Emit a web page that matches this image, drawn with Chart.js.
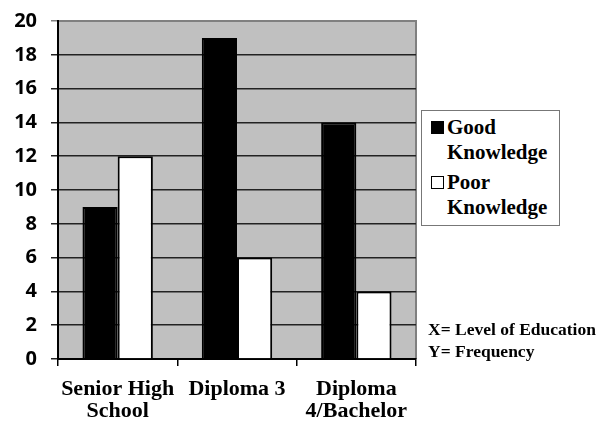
<!DOCTYPE html>
<html>
<head>
<meta charset="utf-8">
<script src="https://cdn.jsdelivr.net/npm/chart.js@4.4.0/dist/chart.umd.min.js"></script>
<style>
  html, body { margin: 0; padding: 0; background: #fff; }
  #wrap { position: relative; width: 608px; height: 423px; }
  #legend {
    position: absolute; left: 421px; top: 110px; width: 137px; height: 114px;
    border: 1px solid #777; background: #fff;
    font: bold 21px "Liberation Serif", "Times New Roman", serif; color: #000;
  }
  .item { position: absolute; left: 9px; line-height: 25px; }
  .box { position: absolute; left: 0; top: 6px; width: 11px; height: 11px; border: 1px solid #000; }
  .txt { margin-left: 16px; }
  #note {
    position: absolute; left: 428px; top: 318px;
    font: bold 17.5px "Liberation Serif", "Times New Roman", serif; line-height: 22px; color: #000;
  }
</style>
</head>
<body>
<div id="wrap">
  <canvas id="chart" width="608" height="423"></canvas>
  <div id="legend"></div>
  <div id="note">X= Level of Education<br>Y= Frequency</div>
</div>
<script>
const categories = [['Senior High', 'School'], ['Diploma 3'], ['Diploma', '4/Bachelor']];
const seriesNames = ['Good Knowledge', 'Poor Knowledge'];
const goodValues = [9, 19, 14];
const poorValues = [12, 6, 4];
const yTicks = [0, 2, 4, 6, 8, 10, 12, 14, 16, 18, 20];

const plotBg = {
  id: 'plotBg',
  beforeDraw(chart) {
    const a = chart.chartArea, c = chart.ctx;
    c.save();
    c.fillStyle = '#c0c0c0';
    c.fillRect(a.left, a.top, a.right - a.left, a.bottom - a.top);
    c.strokeStyle = '#808080';
    c.lineWidth = 2;
    c.beginPath();
    c.moveTo(a.left, a.top);
    c.lineTo(a.right, a.top);
    c.lineTo(a.right, a.bottom);
    c.stroke();
    c.restore();
  }
};

const chart = new Chart(document.getElementById('chart'), {
  type: 'bar',
  data: {
    labels: categories,
    datasets: [
      { label: seriesNames[0], data: goodValues, backgroundColor: '#000', borderColor: '#000', borderWidth: 2 },
      { label: seriesNames[1], data: poorValues, backgroundColor: '#fff', borderColor: '#000', borderWidth: 2 }
    ]
  },
  options: {
    responsive: false,
    animation: false,
    layout: { padding: { left: 0, right: 192, top: 21, bottom: 0 } },
    datasets: { bar: { barPercentage: 1, categoryPercentage: 0.59 } },
    plugins: { legend: { display: false }, tooltip: { enabled: false } },
    scales: {
      x: {
        grid: { offset: true, drawOnChartArea: false, color: '#000', tickLength: 7, lineWidth: 1.5 },
        border: { color: '#000', width: 2 },
        ticks: {
          color: '#000', padding: 12, maxRotation: 0, autoSkip: false,
          font: { family: '"Liberation Serif", "Times New Roman", serif', weight: 'bold', size: 22, lineHeight: 1.0 }
        },
        afterFit(s) { s.height = 64; }
      },
      y: {
        min: 0, max: 20,
        afterBuildTicks(s) { s.ticks = yTicks.map(v => ({ value: v })); },
        grid: {
          color: ctx => ctx.tick && ctx.tick.value === 20 ? '#808080' : '#222',
          lineWidth: 1.5, tickLength: 7
        },
        border: { color: '#000', width: 2 },
        ticks: {
          color: '#000', padding: 14,
          font: { family: '"Open Sans", sans-serif', weight: 'bold', size: 20 }
        },
        afterFit(s) { s.width = 58; s.paddingTop = 0; s.paddingBottom = 0; }
      }
    }
  },
  plugins: [plotBg]
});

// legend built from the dataset names
const legend = document.getElementById('legend');
chart.data.datasets.forEach((ds, i) => {
  const parts = ds.label.split(' ');
  const item = document.createElement('div');
  item.className = 'item';
  item.style.top = (i * 55 + 4) + 'px';
  item.innerHTML = '<span class="box" style="background:' + ds.backgroundColor + '"></span>' +
    '<div class="txt">' + parts[0] + '</div><div class="txt">' + parts[1] + '</div>';
  legend.appendChild(item);
});
</script>
</body>
</html>
